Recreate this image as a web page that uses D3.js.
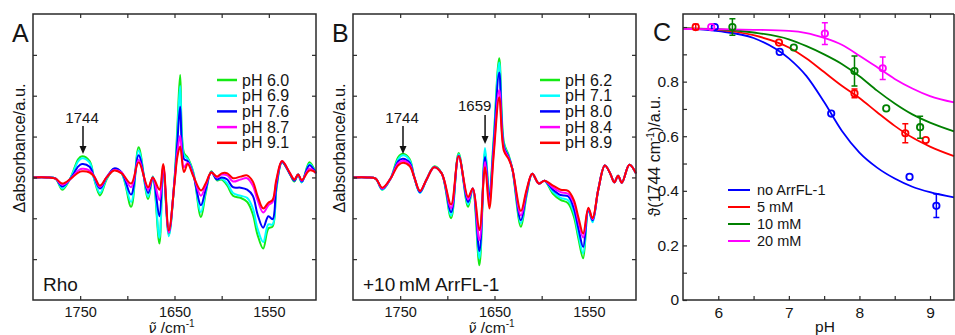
<!DOCTYPE html>
<html>
<head>
<meta charset="utf-8">
<script src="https://cdn.jsdelivr.net/npm/d3@7"></script>
<style>
  body { margin: 0; background: #fff; }
  svg { display: block; }
  text { font-family: "Liberation Sans", Arial, sans-serif; fill: #151515; }
</style>
</head>
<body>
<svg id="fig" width="955" height="335"></svg>
<script>
// ---- panel A: Rho, difference spectra (y in tick units, 0 = baseline)
const wnA = [1800,1785,1776,1769,1760,1752,1748,1740,1735,1729,1722,1714,1706,1696,1688,1678,1673,1666,1662,1656,
  1650,1647,1644,1640,1636,1630,1622,1617,1611,1605,1600,1594,1588,1580,1573,1567,1562,1556,1550.5,1546,
  1542,1536,1528,1523,1519,1515,1507,1500];
const rhoPH60 = [0,0,-0.03,-0.30,0.0,0.45,0.52,0.40,-0.05,-0.44,-0.05,0.20,0.10,-0.72,0.74,-0.53,0.02,-1.62,0.22,-1.40,
  -0.05,1.2,2.51,0.6,0.48,0.12,-0.97,-0.4,0.15,-0.07,-0.05,-0.2,-0.45,-0.5,-0.6,-0.9,-1.4,-1.74,-1.25,-1.2,
  -0.3,0.37,0.1,-0.1,0.07,-0.12,0.37,0.1];
const rhoPH69 = [0,0,-0.03,-0.27,0.0,0.40,0.47,0.36,-0.05,-0.38,-0.03,0.20,0.10,-0.60,0.66,-0.47,0.02,-1.48,0.24,-1.44,
  -0.05,1.05,2.24,0.55,0.45,0.1,-0.85,-0.35,0.13,-0.05,-0.03,-0.15,-0.38,-0.45,-0.5,-0.75,-1.25,-1.58,-1.15,-1.15,
  -0.25,0.38,0.1,-0.08,0.07,-0.12,0.33,0.1];
const rhoPH76 = [0,0,-0.03,-0.22,-0.02,0.27,0.33,0.26,0.0,-0.27,0.0,0.22,0.12,-0.42,0.54,-0.38,0.0,-0.95,0.28,-1.35,
  -0.08,0.85,1.73,0.45,0.4,0.06,-0.68,-0.3,0.13,-0.05,0.0,-0.05,-0.24,-0.25,-0.3,-0.45,-0.9,-1.23,-0.95,-1.02,
  -0.2,0.38,0.1,-0.08,0.07,-0.1,0.3,0.1];
const rhoPH87 = [0,0,-0.03,-0.18,-0.03,0.17,0.21,0.17,0.02,-0.23,0.0,0.18,0.12,-0.24,0.43,-0.3,0.0,-0.56,0.29,-1.35,
  -0.1,0.6,1.02,0.25,0.36,0.05,-0.45,-0.2,0.12,0.0,0.07,0.05,-0.1,-0.05,-0.02,-0.2,-0.55,-0.86,-0.68,-0.6,
  -0.1,0.4,0.12,-0.05,0.07,-0.08,0.22,0.1];
const rhoPH91 = [0,0,-0.03,-0.15,-0.03,0.12,0.15,0.12,0.02,-0.2,0.0,0.17,0.1,-0.15,0.37,-0.24,0.0,-0.3,0.33,-1.3,
  -0.15,0.5,0.76,0.13,0.33,0.03,-0.32,-0.15,0.12,0.02,0.1,0.1,-0.02,0.02,0.05,-0.1,-0.45,-0.76,-0.62,-0.55,
  -0.05,0.4,0.12,-0.05,0.07,-0.06,0.17,0.12];
const labelsA = ["pH 6.0", "pH 6.9", "pH 7.6", "pH 8.7", "pH 9.1"];

// ---- panel B: Rho + 10 mM ArrFL-1
const wnB = [1800,1785,1776,1769,1760,1752,1747,1740,1735,1729,1722,1714,1706,1696,1688,1678,1673,1666,1660,1655.5,
  1651,1645,1640,1635,1631,1622,1616,1610,1603,1597,1588,1580,1572,1566,1561,1556,1550.5,1546,1540,1533,
  1527,1523,1519,1515,1507,1500];
const arrPH62 = [0,0,-0.03,-0.30,-0.02,0.50,0.58,0.45,0.0,-0.36,-0.05,0.27,0.1,-1.0,0.6,-0.72,-0.27,-2.15,0.62,-0.4,
  0.9,2.92,0.85,0.55,0.2,-1.21,-0.45,0.09,-0.15,-0.08,-0.4,-0.55,-0.63,-0.95,-1.5,-1.98,-0.8,-1.05,-0.3,0.29,
  0.08,-0.12,0.04,-0.13,0.31,0.1];
const arrPH71 = [0,0,-0.03,-0.30,-0.02,0.45,0.54,0.42,0.0,-0.38,-0.05,0.26,0.1,-0.93,0.57,-0.66,-0.27,-1.98,0.72,-0.45,
  0.85,2.81,0.8,0.52,0.2,-1.12,-0.42,0.09,-0.15,-0.08,-0.35,-0.5,-0.56,-0.85,-1.4,-1.86,-0.8,-1.1,-0.3,0.29,
  0.08,-0.12,0.04,-0.13,0.31,0.1];
const arrPH80 = [0,0,-0.03,-0.28,-0.02,0.40,0.46,0.36,0.0,-0.36,-0.05,0.25,0.1,-0.85,0.53,-0.6,-0.27,-1.8,0.5,-0.5,
  0.75,2.57,0.75,0.5,0.2,-1.05,-0.38,0.09,-0.15,-0.08,-0.3,-0.43,-0.46,-0.75,-1.25,-1.7,-0.78,-1.05,-0.3,0.29,
  0.08,-0.12,0.04,-0.13,0.31,0.1];
const arrPH84 = [0,0,-0.03,-0.27,-0.02,0.35,0.41,0.32,0.0,-0.34,-0.05,0.25,0.1,-0.75,0.52,-0.54,-0.27,-1.54,0.38,-0.62,
  0.6,2.14,0.7,0.48,0.2,-0.93,-0.33,0.09,-0.15,-0.08,-0.25,-0.36,-0.4,-0.62,-1.08,-1.47,-0.76,-1.02,-0.3,0.29,
  0.08,-0.12,0.04,-0.13,0.31,0.1];
const arrPH89 = [0,0,-0.03,-0.25,-0.02,0.30,0.36,0.28,0.0,-0.33,-0.05,0.25,0.1,-0.66,0.52,-0.48,-0.27,-1.29,0.25,-0.76,
  0.5,1.96,0.65,0.45,0.2,-0.82,-0.3,0.09,-0.15,-0.08,-0.2,-0.3,-0.33,-0.55,-0.98,-1.37,-0.74,-1.0,-0.3,0.29,
  0.08,-0.12,0.04,-0.13,0.31,0.1];
const labelsB = ["pH 6.2", "pH 7.1", "pH 8.0", "pH 8.4", "pH 8.9"];

const specColors = ["#14ea14", "#00ffff", "#0000ff", "#ff00ff", "#ff0000"];

// ---- panel C: normalised 1744 band vs pH
const phNone = [5.95, 6.87, 7.60, 8.71, 9.09];
const valNone = [1.0, 0.909, 0.683, 0.451, 0.345];
const errNone = [0, 0, 0, 0, 0.043];
const ph5 = [5.68, 6.86, 7.93, 8.65, 8.94];
const val5 = [1.0, 0.943, 0.757, 0.611, 0.586];
const err5 = [0.01, 0, 0.016, 0.035, 0];
const ph10 = [6.2, 7.07, 7.93, 8.38, 8.86];
const val10 = [1.0, 0.925, 0.839, 0.702, 0.633];
const err10 = [0.03, 0, 0.055, 0, 0.04];
const ph20 = [5.9, 7.51, 8.33];
const val20 = [1.0, 0.976, 0.849];
const err20 = [0, 0.04, 0.041];

// fitted curves
const fitPH = [5.5, 6.0, 6.5, 7.0, 7.25, 7.5, 7.75, 8.0, 8.25, 8.5, 8.75, 9.0, 9.34];
const fitNone = [0.995, 0.985, 0.96, 0.885, 0.82, 0.725, 0.62, 0.54, 0.485, 0.445, 0.415, 0.395, 0.376];
const fit5 = [0.995, 0.99, 0.97, 0.925, 0.885, 0.835, 0.785, 0.74, 0.688, 0.638, 0.595, 0.562, 0.527];
const fit10 = [0.995, 0.992, 0.98, 0.955, 0.93, 0.9, 0.865, 0.82, 0.767, 0.72, 0.68, 0.65, 0.618];
const fit20 = [0.993, 0.992, 0.99, 0.986, 0.978, 0.96, 0.935, 0.895, 0.853, 0.81, 0.775, 0.747, 0.724];
const labelsC = ["no ArrFL-1", "5 mM", "10 mM", "20 mM"];
const colorsC = ["#0000ff", "#ff0000", "#008000", "#ff00ff"];

const svg = d3.select("#fig");
const frameColor = "#2a2a2a";
const plotTop = 14, plotBottom = 300;

function styleAxis(g, size) {
  g.select(".domain").remove();
  g.selectAll(".tick line").attr("stroke", frameColor).attr("stroke-width", 1.2);
  g.selectAll("text").attr("font-family", "Liberation Sans, Arial, sans-serif")
    .attr("font-size", size).attr("fill", "#151515");
}

function spectrumPanel(x0, x1, wn, series, labels, legendX, letter, tag) {
  const x = d3.scaleLinear().domain([1800, 1500]).range([x0, x1]);
  const y = d3.scaleLinear().domain([-3, 4]).range([plotBottom, plotTop]);
  const g = svg.append("g");

  const line = d3.line()
    .x((d, i) => x(wn[i]))
    .y(d => y(d))
    .curve(d3.curveCatmullRom.alpha(0.5));
  series.forEach((s, k) => {
    g.append("path").attr("d", line(s)).attr("fill", "none")
      .attr("stroke", specColors[k]).attr("stroke-width", 2).attr("stroke-linejoin", "round");
  });

  const xt = d3.range(1750, 1500, -50);
  g.append("g").attr("transform", `translate(0,${plotBottom})`)
    .call(d3.axisBottom(x).tickValues(xt).tickSize(-4).tickPadding(6.5)
      .tickFormat(d => d % 100 === 50 ? d : ""))
    .call(a => styleAxis(a, 14.5));
  g.append("g").attr("transform", `translate(0,${plotTop})`)
    .call(d3.axisTop(x).tickValues(xt).tickSize(-4).tickFormat(""))
    .call(a => styleAxis(a, 10));
  const yt = d3.range(-2, 4);
  g.append("g").attr("transform", `translate(${x0},0)`)
    .call(d3.axisLeft(y).tickValues(yt).tickSize(-4).tickFormat(""))
    .call(a => styleAxis(a, 10));
  g.append("g").attr("transform", `translate(${x1},0)`)
    .call(d3.axisRight(y).tickValues(yt).tickSize(-4).tickFormat(""))
    .call(a => styleAxis(a, 10));

  g.append("rect").attr("x", x0).attr("y", plotTop).attr("width", x1 - x0).attr("height", plotBottom - plotTop)
    .attr("fill", "none").attr("stroke", frameColor).attr("stroke-width", 1.5);

  // axis titles
  const xl = g.append("text").attr("x", (x0 + x1) / 2 - 3).attr("y", 333)
    .attr("text-anchor", "middle").attr("font-size", 15.5);
  xl.append("tspan").attr("font-style", "italic").attr("font-family", "DejaVu Sans, sans-serif")
    .attr("font-size", 14.5).text("\u03bd\u0303");
  xl.append("tspan").text(" /cm");
  xl.append("tspan").attr("font-size", 10).attr("dy", -6).text("-1");

  g.append("text").attr("transform", `translate(${x0 - 8},148) rotate(-90)`)
    .attr("text-anchor", "middle").attr("font-size", 16.5).text("\u0394absorbance/a.u.");

  g.append("text").attr("x", x0 - 21).attr("y", 42).attr("font-size", 25).text(letter);
  g.append("text").attr("x", x0 + 10).attr("y", 291).attr("font-size", 19).text(tag);

  // legend
  labels.forEach((lab, k) => {
    const ly = 80 + k * 15.7;
    g.append("line").attr("x1", legendX).attr("x2", legendX + 20).attr("y1", ly).attr("y2", ly)
      .attr("stroke", specColors[k]).attr("stroke-width", 2.5);
    g.append("text").attr("x", legendX + 25).attr("y", ly + 5.5).attr("font-size", 16).text(lab);
  });
  return { x, y, g };
}

function arrow(g, xPos, y0, y1, label, labelX, labelY) {
  g.append("text").attr("x", labelX).attr("y", labelY).attr("text-anchor", "middle")
    .attr("font-size", 15).text(label);
  g.append("line").attr("x1", xPos).attr("x2", xPos).attr("y1", y0).attr("y2", y1 - 6)
    .attr("stroke", "#111").attr("stroke-width", 1.5);
  g.append("path").attr("d", `M${xPos - 3.5},${y1 - 8}L${xPos + 3.5},${y1 - 8}L${xPos},${y1}Z`)
    .attr("fill", "#111");
}

const pA = spectrumPanel(33, 316, wnA, [rhoPH60, rhoPH69, rhoPH76, rhoPH87, rhoPH91], labelsA, 217, "A", "Rho");
arrow(pA.g, pA.x(1747), 126, 154, "1744", pA.x(1748), 123);

const pB = spectrumPanel(353, 636, wnB, [arrPH62, arrPH71, arrPH80, arrPH84, arrPH89], labelsB, 540, "B", "+10\u2009mM ArrFL-1");
arrow(pB.g, pB.x(1747), 126, 154, "1744", pB.x(1748), 123);
arrow(pB.g, pB.x(1660), 115, 144, "1659", pB.x(1671), 111);

// ---- panel C
(function () {
  const x0 = 683, x1 = 954;
  const x = d3.scaleLinear().domain([5.5, 9.34]).range([x0, x1]);
  const y = d3.scaleLinear().domain([0, 1.05]).range([plotBottom, 13.4]);
  const g = svg.append("g");

  const fits = [fitNone, fit5, fit10, fit20];
  const line = d3.line().x((d, i) => x(fitPH[i])).y(d => y(d)).curve(d3.curveMonotoneX);
  fits.forEach((f, k) => g.append("path").attr("d", line(f)).attr("fill", "none")
    .attr("stroke", colorsC[k]).attr("stroke-width", 1.8));

  const sets = [[phNone, valNone, errNone], [ph5, val5, err5], [ph10, val10, err10], [ph20, val20, err20]];
  sets.forEach(([ph, val, err], k) => {
    ph.forEach((p, i) => {
      if (err[i] > 0) {
        const cx = x(p), ya = y(val[i] + err[i]), yb = y(val[i] - err[i]);
        g.append("path").attr("d", `M${cx},${ya}V${yb}M${cx - 3},${ya}H${cx + 3}M${cx - 3},${yb}H${cx + 3}`)
          .attr("stroke", colorsC[k]).attr("stroke-width", 1.5).attr("fill", "none");
      }
      g.append("circle").attr("cx", x(p)).attr("cy", y(val[i])).attr("r", 3.2)
        .attr("fill", "none").attr("stroke", colorsC[k]).attr("stroke-width", 1.8);
    });
  });

  const xt = d3.range(6, 9.01, 0.5);
  g.append("g").attr("transform", `translate(0,${plotBottom})`)
    .call(d3.axisBottom(x).tickValues(xt).tickSize(-4).tickPadding(6.5)
      .tickFormat(d => Number.isInteger(d) ? d : ""))
    .call(a => styleAxis(a, 15.5));
  g.append("g").attr("transform", `translate(0,${plotTop})`)
    .call(d3.axisTop(x).tickValues(xt).tickSize(-4).tickFormat(""))
    .call(a => styleAxis(a, 10));
  const yt = d3.range(0, 1.001, 0.1).map(v => +v.toFixed(1));
  g.append("g").attr("transform", `translate(${x0},0)`)
    .call(d3.axisLeft(y).tickValues(yt).tickSize(-4).tickPadding(4)
      .tickFormat(d => d === 0 ? "0" : (Math.round(d * 10) % 2 === 0 && d < 0.95 ? d3.format(".1f")(d) : "")))
    .call(a => styleAxis(a, 15.5));

  g.append("path").attr("d", `M${x1},${plotTop}H${x0}V${plotBottom}H${x1}V${plotTop}`)
    .attr("fill", "none").attr("stroke", frameColor).attr("stroke-width", 1.5);

  g.append("text").attr("x", 825).attr("y", 332).attr("text-anchor", "middle").attr("font-size", 15.5).text("pH");
  const yl = g.append("text").attr("transform", "translate(660,156) rotate(-90)")
    .attr("text-anchor", "middle").attr("font-size", 16);
  yl.append("tspan").text("\u03d1(1744 cm");
  yl.append("tspan").attr("font-size", 10).attr("dy", -6).text("-1");
  yl.append("tspan").attr("dy", 6).text(")/a.u.");

  g.append("text").attr("x", 653).attr("y", 41).attr("font-size", 25).text("C");

  labelsC.forEach((lab, k) => {
    const ly = 190 + k * 17;
    g.append("line").attr("x1", 728).attr("x2", 750).attr("y1", ly).attr("y2", ly)
      .attr("stroke", colorsC[k]).attr("stroke-width", 2);
    g.append("text").attr("x", 757).attr("y", ly + 5).attr("font-size", 14.5).text(lab);
  });
})();
</script>
</body>
</html>
